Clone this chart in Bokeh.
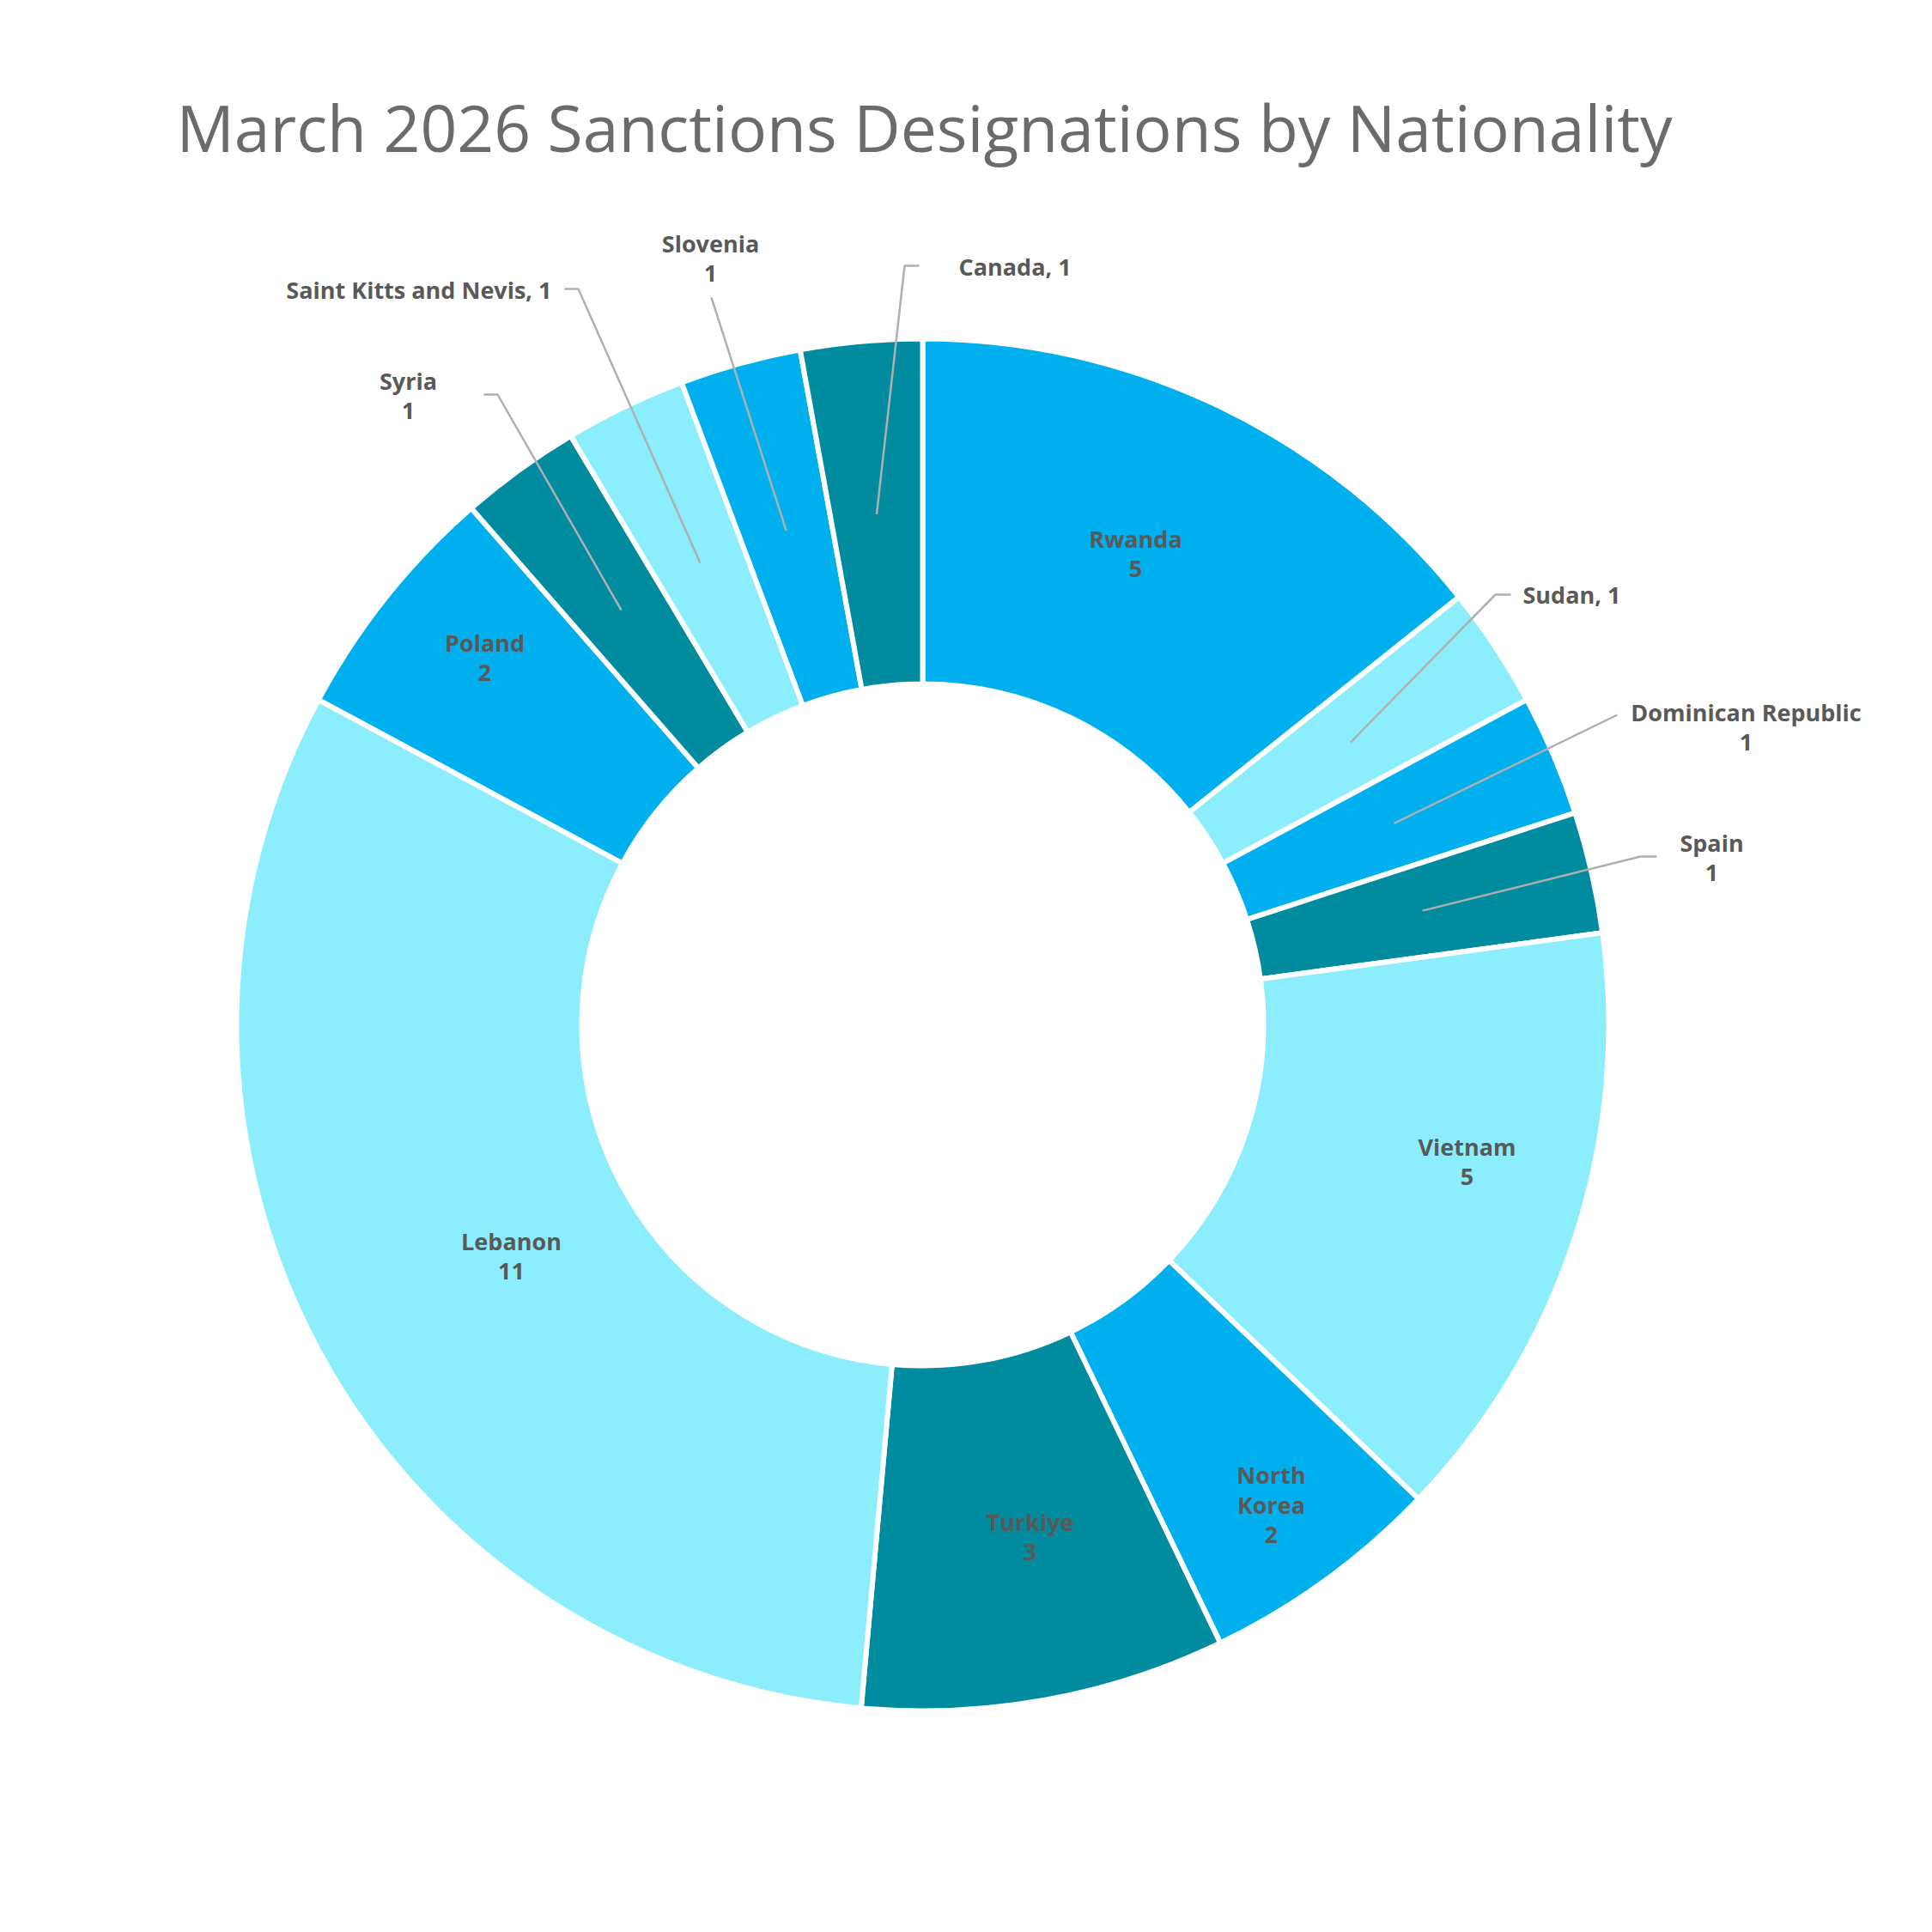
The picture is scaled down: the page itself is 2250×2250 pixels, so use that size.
import numpy as np
from bokeh.plotting import figure
from bokeh.models import Range1d, ColumnDataSource
from bokeh.core.properties import value
from bokeh.embed import file_html
from bokeh.resources import INLINE

# ---------------- data ----------------
title_text = "March 2026 Sanctions Designations by Nationality"
countries = ["Rwanda", "Sudan", "Dominican Republic", "Spain", "Vietnam",
             "North Korea", "Turkiye", "Lebanon", "Poland", "Syria",
             "Saint Kitts and Nevis", "Slovenia", "Canada"]
counts = [5, 1, 1, 1, 5, 2, 3, 11, 2, 1, 1, 1, 1]
colors = ["#00B0EE", "#8CEEFC", "#00B0EE", "#008B9E", "#8CEEFC",
          "#00B0EE", "#008B9E", "#8CEEFC", "#00B0EE", "#008B9E",
          "#8CEEFC", "#00B0EE", "#008B9E"]

# ---------------- layout (screen pixels of the 2250 page) ----------------
W = 2250
CX, CY = 1074, 1193
R_OUT, R_IN = 799, 397
R_LEAD = 597
LINE_H = 35

# label anchor: x, y (middle of first line), align, style
label_layout = {
    "Rwanda": (1322, 627, "center", "stack"),
    "Sudan": (1773, 692, "left", "comma"),
    "Dominican Republic": (2033, 829, "center", "stack"),
    "Spain": (1993, 981, "center", "stack"),
    "Vietnam": (1708, 1335, "center", "stack"),
    "North Korea": (1480, 1717, "center", "wrap"),
    "Turkiye": (1199, 1772, "center", "stack"),
    "Lebanon": (595, 1445, "center", "stack"),
    "Poland": (564, 748, "center", "stack"),
    "Syria": (475, 443, "center", "stack"),
    "Saint Kitts and Nevis": (642, 337, "right", "comma"),
    "Slovenia": (827, 283, "center", "stack"),
    "Canada": (1116, 310, "left", "comma"),
}
leader_points = {
    "Sudan": [(1759, 692), (1741, 692)],
    "Dominican Republic": [(1883, 832)],
    "Spain": [(1929, 997), (1910, 997)],
    "Syria": [(563, 459), (579, 459)],
    "Saint Kitts and Nevis": [(657, 336), (673, 336)],
    "Slovenia": [(828, 346)],
    "Canada": [(1070, 309), (1053, 309)],
}

def sy(y):
    return W - y

p = figure(width=2234, height=2234, output_backend="svg", toolbar_location=None,
           x_range=Range1d(0, 2234), y_range=Range1d(16, 2250),
           min_border=0, outline_line_color=None)
p.axis.visible = False
p.grid.visible = False
p.background_fill_color = "white"
p.border_fill_color = "white"

vals = np.array(counts, dtype=float)
total = vals.sum()
cum = np.concatenate([[0], np.cumsum(vals)])
theta0 = cum[:-1] / total * 2 * np.pi   # clockwise from north
theta1 = cum[1:] / total * 2 * np.pi
start = np.pi / 2 - theta1
end = np.pi / 2 - theta0

src = ColumnDataSource(dict(x=[CX] * len(counts), y=[sy(CY)] * len(counts),
                            start=start, end=end, color=colors))
p.annular_wedge(x="x", y="y", inner_radius=R_IN, outer_radius=R_OUT,
                start_angle="start", end_angle="end", direction="anticlock",
                fill_color="color", line_color="white", line_width=6, source=src)

# leader lines
mid = (theta0 + theta1) / 2
for i, c in enumerate(countries):
    if c in leader_points:
        pts = leader_points[c]
        xs = [pt[0] for pt in pts] + [CX + R_LEAD * np.sin(mid[i])]
        ys = [sy(pt[1]) for pt in pts] + [sy(CY - R_LEAD * np.cos(mid[i]))]
        p.line(xs, ys, line_color="#B0B0B0", line_width=2.5)

# labels
for i, c in enumerate(countries):
    x, y, align, style = label_layout[c]
    if style == "comma":
        lines = [f"{c}, {counts[i]}"]
    elif style == "wrap":
        lines = c.split(" ") + [str(counts[i])]
    else:
        lines = [c, str(counts[i])]
    for k, t in enumerate(lines):
        p.text(x=[x], y=[sy(y + k * LINE_H)], text=[t], text_align=align,
               text_baseline="middle", text_font=value("Open Sans"),
               text_font_style="bold", text_font_size="27px", text_color="#595959")

# title
p.text(x=[1076], y=[sy(147)], text=[title_text], text_align="center",
       text_baseline="middle", text_font=value("Open Sans"),
       text_font_size="75px", text_color="#6B6B6B")

open("out.html", "w").write(file_html(p, INLINE))
